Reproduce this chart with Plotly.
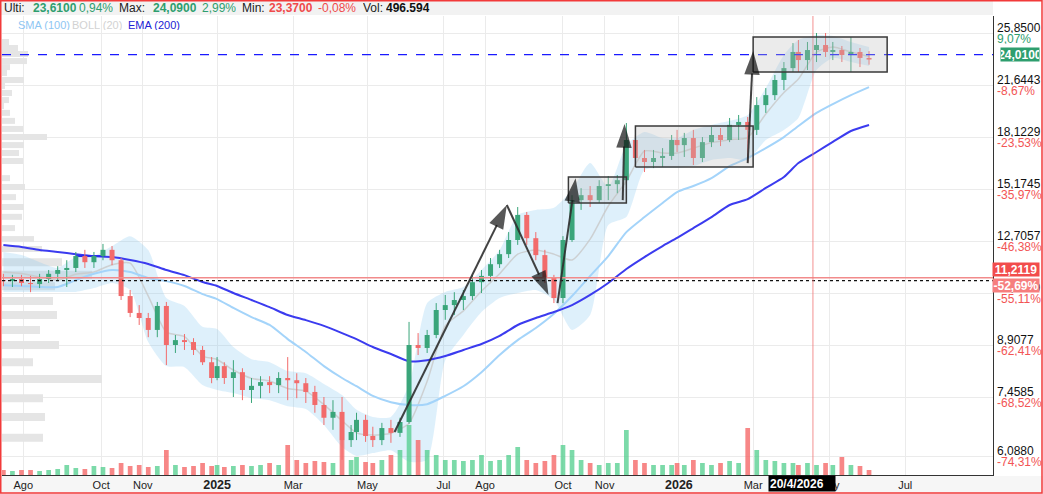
import numpy as np
import plotly.graph_objects as go

# ---------------------------------------------------------------- data
HOLIDAYS = ["2024-12-25", "2024-12-26", "2025-01-01", "2025-04-18", "2025-04-21",
            "2025-05-01", "2025-12-25", "2025-12-26", "2026-01-01", "2026-04-03",
            "2026-04-06", "2026-05-01"]
FIRST_WEEK = "2024-07-15"
N_WEEKS = 99

open_ = [11.12, 11.08, 11.16, 11.01, 10.97, 11.16, 11.36, 11.51, 11.59, 12.07,
         11.82, 12.07, 12.33, 11.90, 10.53, 9.94, 9.77, 9.38, 10.18, 8.91,
         9.06, 9.00, 8.76, 8.40, 7.96, 8.29, 7.96, 8.12, 7.64, 7.75,
         7.85, 7.77, 7.96, 7.90, 7.82, 7.59, 7.26, 6.95, 7.09, 6.44,
         6.62, 6.90, 6.53, 6.44, 6.71, 6.60, 6.85, 8.91, 8.82, 9.22,
         10.04, 10.21, 10.39, 10.53, 11.04, 11.28, 11.74, 12.15, 12.75, 13.89,
         12.83, 12.11, 11.20, 10.46, 12.75, 14.61, 14.86, 14.61, 15.33, 15.43,
         15.64, 17.94, 16.87, 16.64, 16.87, 16.99, 17.94, 17.63, 18.06, 16.87,
         17.81, 18.25, 17.94, 18.89, 19.08, 18.57, 20.21, 20.91, 22.02, 22.93,
         24.23, 23.57, 24.39, 24.81, 24.23, 24.39, 23.98, 24.23, 23.74]
high = [11.36, 11.32, 11.32, 11.28, 11.36, 11.51, 11.66, 11.90, 12.24, 12.33,
        12.24, 12.58, 12.49, 11.99, 10.75, 10.21, 9.94, 10.32, 10.32, 9.22,
        9.25, 9.12, 8.88, 8.55, 8.55, 8.40, 8.46, 8.23, 7.96, 8.01,
        8.01, 8.12, 8.55, 8.09, 7.96, 7.75, 7.46, 7.38, 7.46, 6.78,
        7.07, 7.02, 6.74, 6.83, 6.90, 6.95, 9.64, 9.28, 9.38, 10.28,
        10.57, 10.67, 10.75, 11.32, 11.51, 11.99, 12.33, 13.10, 14.27, 14.03,
        13.10, 12.33, 11.32, 12.92, 14.86, 15.22, 15.33, 15.64, 15.86, 15.91,
        19.01, 18.25, 17.34, 17.34, 17.45, 18.25, 18.57, 18.38, 18.57, 18.12,
        18.76, 18.69, 19.34, 19.54, 19.41, 20.77, 21.42, 22.40, 23.41, 24.98,
        25.24, 25.07, 25.85, 25.85, 25.07, 24.73, 25.50, 24.56, 24.30]
low = [10.89, 10.86, 10.89, 10.67, 10.82, 11.01, 11.08, 10.86, 11.43, 11.59,
       11.59, 11.90, 11.70, 10.39, 9.80, 9.54, 9.15, 9.15, 8.32, 8.67,
       8.76, 8.61, 8.32, 7.82, 7.90, 7.80, 7.46, 7.38, 7.31, 7.43,
       7.56, 7.56, 7.38, 7.43, 7.31, 7.07, 6.78, 6.67, 6.02, 6.29,
       6.44, 6.40, 6.29, 6.33, 6.38, 6.51, 6.81, 8.61, 8.67, 9.12,
       9.71, 9.87, 10.04, 10.39, 10.64, 11.12, 11.59, 11.99, 12.54, 12.54,
       11.90, 11.01, 10.28, 10.28, 12.67, 14.13, 14.27, 14.47, 14.61, 14.96,
       15.38, 16.47, 16.08, 16.30, 16.36, 16.76, 17.22, 16.93, 16.47, 16.64,
       17.51, 17.57, 17.81, 17.94, 16.64, 18.25, 19.68, 20.56, 21.27, 22.63,
       22.63, 22.78, 23.41, 23.82, 23.57, 23.41, 22.63, 23.01, 23.20]
close = [11.08, 11.16, 11.01, 10.97, 11.16, 11.36, 11.51, 11.59, 12.07, 11.82,
         12.07, 12.33, 11.90, 10.53, 9.94, 9.77, 9.38, 10.18, 8.91, 9.06,
         9.00, 8.76, 8.40, 7.96, 8.29, 7.96, 8.12, 7.64, 7.75, 7.85,
         7.77, 7.96, 7.90, 7.82, 7.59, 7.26, 6.95, 7.09, 6.44, 6.62,
         6.90, 6.53, 6.44, 6.71, 6.60, 6.85, 8.91, 8.82, 9.22, 10.04,
         10.21, 10.39, 10.53, 11.04, 11.28, 11.74, 12.15, 12.75, 13.89, 12.83,
         12.11, 11.20, 10.46, 12.75, 14.61, 14.86, 14.61, 15.33, 15.43, 15.64,
         17.94, 16.87, 16.64, 16.87, 16.99, 17.94, 17.63, 18.06, 16.87, 17.81,
         18.25, 17.94, 18.89, 19.08, 18.57, 20.21, 20.91, 22.02, 22.93, 24.23,
         23.57, 24.39, 24.81, 24.23, 24.39, 23.98, 24.23, 23.74, 23.61]
volume_k = [500, 400, 500, 500, 400, 500, 600, 1000, 700, 600,
            900, 800, 700, 1200, 900, 1000, 800, 900, 2500, 1000,
            800, 900, 1200, 900, 1000, 800, 900, 1000, 900, 1000,
            1200, 1000, 3000, 1500, 1200, 1400, 1300, 1200, 3500, 1500,
            1800, 1300, 1200, 1500, 2000, 2500, 5000, 3500, 2500, 2000,
            1500, 1500, 1400, 1500, 2000, 1400, 1500, 2000, 2800, 1500,
            1200, 1400, 2000, 3000, 2500, 1500, 1200, 1000, 1200, 1200,
            4500, 1500, 1200, 1000, 1000, 1000, 1200, 1000, 1500, 1200,
            1000, 1200, 1400, 1200, 4700, 2500, 1500, 1400, 1200, 1200,
            1000, 1200, 1000, 1200, 1000, 1800, 1000, 900, 500]

# indicators, read every second week
sma100 = [10.93, 10.90, 10.86, 10.86, 11.12, 11.36, 11.51, 11.43, 11.20, 11.08,
          10.90, 10.60, 10.42, 10.11, 9.80, 9.54, 9.09, 8.70, 8.29, 7.96,
          7.74, 7.49, 7.33, 7.26, 7.28, 7.49, 7.74, 8.12, 8.61, 9.06,
          9.44, 9.91, 10.53, 11.28, 12.07, 13.10, 13.79, 14.47, 15.02, 15.33,
          15.75, 16.41, 16.87, 17.45, 18.12, 18.82, 19.68, 20.28, 20.91, 21.49]
ema200 = [12.53, 12.45, 12.32, 12.24, 12.15, 12.07, 12.03, 11.91, 11.75, 11.51,
          11.31, 11.05, 10.90, 10.64, 10.39, 10.14, 9.87, 9.70, 9.51, 9.28,
          9.09, 8.85, 8.64, 8.43, 8.46, 8.58, 8.76, 8.94, 9.19, 9.54,
          9.77, 9.97, 10.21, 10.57, 11.01, 11.55, 12.03, 12.49, 12.84, 13.28,
          13.79, 14.37, 14.66, 15.23, 15.81, 16.58, 17.22, 17.82, 18.50, 18.88]
boll_up = [12.24, 12.11, 11.82, 11.59, 12.03, 12.07, 12.49, 12.92, 12.32, 10.46,
           10.18, 9.48, 9.41, 8.85, 8.49, 8.40, 8.15, 8.09, 7.80, 7.51,
           7.14, 6.97, 6.97, 7.77, 10.28, 10.68, 10.86, 11.51, 12.32, 13.89,
           14.13, 14.23, 15.12, 16.58, 15.28, 17.63, 18.44, 18.06, 18.06, 18.57,
           18.88, 19.15, 19.54, 21.42, 23.98, 25.24, 25.67, 25.59, 25.07, 24.64]
boll_mid = [11.43, 11.37, 11.24, 11.12, 11.34, 11.43, 11.72, 11.78, 10.53, 9.31,
            9.17, 8.58, 8.48, 8.18, 7.95, 7.88, 7.68, 7.61, 7.27, 6.88,
            6.60, 6.55, 6.59, 6.82, 7.87, 9.51, 10.01, 10.71, 11.36, 12.15,
            12.32, 12.15, 11.91, 12.79, 14.32, 15.59, 17.28, 17.16, 17.16, 17.45,
            17.78, 17.96, 18.09, 19.61, 21.10, 22.09, 24.21, 24.64, 24.23, 23.86]
boll_low = [10.68, 10.68, 10.68, 10.68, 10.68, 10.82, 11.01, 10.75, 9.00, 8.29,
            8.26, 7.77, 7.64, 7.56, 7.43, 7.38, 7.23, 7.16, 6.78, 6.29,
            6.10, 6.16, 6.22, 5.98, 6.02, 8.46, 9.22, 9.97, 10.46, 10.64,
            10.75, 10.39, 9.38, 9.87, 13.42, 13.79, 16.19, 16.30, 16.30, 16.41,
            16.76, 16.87, 16.76, 17.94, 18.57, 19.34, 22.78, 23.74, 23.41, 23.09]

# volume profile (price level, relative volume)
vp_price = [25.07, 24.56, 24.06, 23.49, 23.01, 22.55, 22.02, 21.57, 21.06, 20.56,
            20.14, 19.68, 19.15, 18.63, 18.12, 17.63, 17.16, 16.70, 15.75, 15.28,
            14.76, 14.27, 13.80, 13.28, 12.79, 12.37, 11.82, 11.32, 10.89, 10.35,
            9.87, 9.38, 8.91, 8.40, 7.93, 7.43, 6.97, 6.49]
vp_volume = [7, 16, 26, 25, 8, 5, 22, 3, 10, 7,
             2, 8, 13, 21, 45, 22, 17, 21, 8, 23,
             14, 22, 20, 13, 32, 40, 60, 90, 53, 51,
             55, 38, 57, 31, 100, 41, 43, 41]

month_dates = ["2024-08-01", "2024-10-01", "2024-11-01", "2025-01-01", "2025-03-01",
               "2025-05-01", "2025-07-01", "2025-08-01", "2025-10-01", "2025-11-01",
               "2026-01-01", "2026-03-01", "2026-05-01", "2026-07-01"]
month_labels = ["Ago", "Oct", "Nov", "2025", "Mar", "May", "Jul", "Ago", "Oct", "Nov",
                "2026", "Mar", "May", "Jul"]

axis_prices = [25.85, 21.6443, 18.1229, 15.1745, 12.7057, 10.6399, 8.9077, 7.4585, 6.088]
axis_price_txt = ["25,8500", "21,6443", "18,1229", "15,1745", "12,7057", "10,6399",
                  "8,9077", "7,4585", "6,0880"]
axis_pct_txt = ["9,07%", "-8,67%", "-23,53%", "-35,97%", "-46,38%", "-55,11%",
                "-62,41%", "-68,52%", "-74,31%"]

last_price, last_price_txt = 24.01, "24,0100"
start_price, start_price_txt, start_pct_txt = 11.2119, "11,2119", "-52,69%"
dotted_level = 11.10
crosshair_date, crosshair_txt = "2026-04-20", "20/4/2026"

# user drawings: arrows (date0, price0, date1, price1) and boxes (date0, date1, p0, p1)
arrows = [("2025-05-23", 6.62, "2025-08-19", 14.37),
          ("2025-08-19", 14.37, "2025-09-19", 10.57),
          ("2025-09-26", 10.28, "2025-10-10", 15.75),
          ("2025-11-17", 14.61, "2025-11-18", 18.95),
          ("2026-02-25", 16.58, "2026-03-02", 24.31)]
boxes = [("2025-10-06", "2025-11-19", 14.47, 15.81),
         ("2025-11-26", "2026-03-02", 16.36, 18.82),
         ("2026-03-02", "2026-06-17", 22.63, 25.50)]
hsegment = ("2024-09-11", "2024-10-03", 12.07)

header_items = [("Ulti:", "lab"), ("23,6100", "upb"), ("0,94%", "up"),
                ("Max:", "lab"), ("24,0900", "upb"), ("2,99%", "up"),
                ("Min:", "lab"), ("23,3700", "dnb"), ("-0,08%", "dn"),
                ("Vol:", "lab"), ("496.594", "labb")]
legend_items = [("SMA (100)", "#8ec6f3"), ("BOLL (20)", "#d2d2d2"), ("EMA (200)", "#2121d4")]

# ---------------------------------------------------------------- layout helpers
FONT = "Liberation Sans, Arial, sans-serif"
UP, DN = "#3aa57a", "#f26b6b"
HDR_GREEN, HDR_RED = "#2e9e6e", "#f04a4a"
W, H = 1043, 494
ML, MR, MT, MB = 2, 50, 16, 19
PW, PH = W - ML - MR, H - MT - MB

HOL = np.array(HOLIDAYS, dtype="datetime64[D]")
BASE = np.datetime64(FIRST_WEEK, "D")


def tday(d):
    return float(np.busday_count(BASE, np.datetime64(d, "D"), holidays=HOL))


xw = [tday(BASE + np.timedelta64(7 * i + 2, "D")) for i in range(N_WEEKS)]
xi = xw[::2]

PX_DAY = 1.811
X0 = tday("2024-08-01")
X_LO, X_HI = X0 - 21.3 / PX_DAY, X0 + 969.7 / PX_DAY
Y_HI = np.log10(25.85) + 17 * 0.0014827
Y_LO = Y_HI - PH * 0.0014827


def px_x(px):
    return (px - ML) / PW


def px_y(py):
    return (H - MB - py) / PH


fig = go.Figure()

# volume profile (base subplot, underneath everything)
for sel, lw in ((lambda p: p >= 12, 6), (lambda p: p < 12, 8)):
    X, Y = [], []
    for p, v in zip(vp_price, vp_volume):
        if sel(p):
            X += [0, v, None]
            Y += [p, p, None]
    fig.add_trace(go.Scatter(x=X, y=Y, mode="lines", xaxis="x", yaxis="y",
                             line=dict(color="#e5e5e5", width=lw), hoverinfo="skip"))

# Bollinger band
fig.add_trace(go.Scatter(x=xi, y=boll_low, mode="lines", xaxis="x2", yaxis="y",
                         line=dict(width=0, shape="spline", smoothing=0.6), hoverinfo="skip"))
fig.add_trace(go.Scatter(x=xi, y=boll_up, mode="lines", xaxis="x2", yaxis="y", fill="tonexty",
                         fillcolor="rgba(135,200,240,0.28)",
                         line=dict(width=0, shape="spline", smoothing=0.6), hoverinfo="skip"))
fig.add_trace(go.Scatter(x=xi, y=boll_mid, mode="lines", xaxis="x2", yaxis="y",
                         line=dict(color="rgba(200,200,200,0.8)", width=1.5, shape="spline",
                                   smoothing=0.6), hoverinfo="skip"))
# SMA / EMA
fig.add_trace(go.Scatter(x=xi, y=sma100, mode="lines", xaxis="x2", yaxis="y",
                         line=dict(color="#a4d4fa", width=2, shape="spline", smoothing=0.6)))
fig.add_trace(go.Scatter(x=xi, y=ema200, mode="lines", xaxis="x2", yaxis="y",
                         line=dict(color="#3b3bef", width=2, shape="spline", smoothing=0.6)))
# small drawn horizontal segment
fig.add_trace(go.Scatter(x=[tday(hsegment[0]), tday(hsegment[1])], y=[hsegment[2]] * 2,
                         mode="lines", xaxis="x2", yaxis="y",
                         line=dict(color="#2a2af0", width=2)))

# candles
n = len(close)
for color, idx in ((UP, [i for i in range(n) if close[i] >= open_[i]]),
                   (DN, [i for i in range(n) if close[i] < open_[i]])):
    wx, wy, bx, by = [], [], [], []
    for i in idx:
        wx += [xw[i], xw[i], None]
        wy += [low[i], high[i], None]
        bx += [xw[i], xw[i], None]
        by += [min(open_[i], close[i]), max(open_[i], close[i]), None]
    fig.add_trace(go.Scatter(x=wx, y=wy, mode="lines", xaxis="x2", yaxis="y",
                             line=dict(color=color, width=1)))
    fig.add_trace(go.Scatter(x=bx, y=by, mode="lines", xaxis="x2", yaxis="y",
                             line=dict(color=color, width=5)))

# horizontal reference lines + crosshair
fig.add_trace(go.Scatter(x=[X_LO, X_HI], y=[start_price] * 2, mode="lines", xaxis="x2",
                         yaxis="y", line=dict(color="#f28b8b", width=1.5)))
fig.add_trace(go.Scatter(x=[X_LO, X_HI], y=[dotted_level] * 2, mode="lines", xaxis="x2",
                         yaxis="y", line=dict(color="#111", width=1.3, dash="dot")))
fig.add_trace(go.Scatter(x=[X_LO, X_HI], y=[last_price] * 2, mode="lines", xaxis="x2",
                         yaxis="y", line=dict(color="#1a1aff", width=1.2, dash="dash")))
xc = tday(crosshair_date)
fig.add_trace(go.Scatter(x=[xc, xc], y=[10 ** Y_LO, 10 ** Y_HI], mode="lines", xaxis="x2",
                         yaxis="y", line=dict(color="rgba(240,120,120,0.55)", width=1.5)))

# boxes
for d0, d1, p0, p1 in boxes:
    a, b = tday(d0), tday(d1)
    fig.add_trace(go.Scatter(x=[a, b, b, a, a], y=[p0, p0, p1, p1, p0], mode="lines",
                             xaxis="x2", yaxis="y", fill="toself",
                             fillcolor="rgba(190,190,190,0.3)",
                             line=dict(color="#3a3a3a", width=1.5)))
# arrows
for d0, p0, d1, p1 in arrows:
    fig.add_trace(go.Scatter(x=[tday(d0), tday(d1)], y=[p0, p1], mode="lines+markers",
                             xaxis="x2", yaxis="y",
                             line=dict(color="rgba(45,45,45,0.9)", width=2),
                             marker=dict(symbol="arrow", angleref="previous", size=[0, 25],
                                         color="#111", line=dict(width=0))))

# volume bars
fig.add_trace(go.Bar(x=xw, y=volume_k, xaxis="x2", yaxis="y2", width=2.6,
                     marker=dict(color=["rgba(80,205,140,0.75)" if close[i] >= open_[i]
                                        else "rgba(245,105,105,0.8)" for i in range(n)],
                                 line=dict(width=0))))

# ---------------------------------------------------------------- annotations
ann = []
hx = [3, 32, 78, 118, 152, 201, 241, 268, 317, 362, 385]
sty = {"lab": ("#222", False), "labb": ("#111", True), "upb": (HDR_GREEN, True),
       "up": (HDR_GREEN, False), "dnb": (HDR_RED, True), "dn": (HDR_RED, False)}
for (txt, s), x in zip(header_items, hx):
    c, b = sty[s]
    ann.append(dict(text=f"<b>{txt}</b>" if b else txt, xref="paper", yref="paper",
                    x=px_x(x - 1), y=px_y(8), xanchor="left", yanchor="middle",
                    showarrow=False, height=12, font=dict(size=12, color=c, family=FONT)))
for (txt, c), x in zip(legend_items, [17, 71, 127]):
    ann.append(dict(text=txt, xref="paper", yref="paper", x=px_x(x - 1), y=px_y(24),
                    xanchor="left", yanchor="middle", showarrow=False, height=11,
                    font=dict(size=11, color=c, family=FONT)))
for p, t, pc in zip(axis_prices, axis_price_txt, axis_pct_txt):
    ann.append(dict(text=t, xref="paper", yref="y", x=px_x(995), y=np.log10(p), yshift=5.5,
                    xanchor="left", yanchor="middle", showarrow=False, height=10,
                    font=dict(size=12, color="#111", family=FONT)))
    ann.append(dict(text=pc, xref="paper", yref="y", x=px_x(995), y=np.log10(p), yshift=-5.5,
                    xanchor="left", yanchor="middle", showarrow=False, height=10,
                    font=dict(size=12, color=HDR_GREEN if not pc.startswith("-") else "#f25555",
                              family=FONT)))
ann.append(dict(text=f"<b>{last_price_txt}</b>", xref="paper", yref="y", x=px_x(1000),
                y=np.log10(last_price), xanchor="left", yanchor="middle", showarrow=False,
                bgcolor=HDR_GREEN, width=38, height=13, borderpad=0,
                font=dict(size=12, color="white", family=FONT)))
ann.append(dict(text=f"<b>{start_price_txt}</b>", xref="paper", yref="y", x=px_x(992),
                y=np.log10(start_price), yshift=8, xanchor="left", yanchor="middle",
                showarrow=False, bgcolor="#f24c4c", width=46, height=13, borderpad=0,
                font=dict(size=12, color="white", family=FONT)))
ann.append(dict(text=f"<b>{start_pct_txt}</b>", xref="paper", yref="y", x=px_x(992),
                y=np.log10(start_price), yshift=-7.5, xanchor="left", yanchor="middle",
                showarrow=False, bgcolor="#f67e7e", width=46, height=13, borderpad=0,
                font=dict(size=12, color="white", family=FONT)))
ann.append(dict(text=f"<b>{crosshair_txt}</b>", xref="x2", yref="paper", x=xc, xshift=-11,
                y=px_y(483.5), xanchor="center", yanchor="middle", showarrow=False,
                bgcolor="#000", width=64, height=13, borderpad=1, align="left",
                font=dict(size=12, color="white", family=FONT)))

shapes = [
    dict(type="rect", xref="paper", yref="paper", x0=-0.01, x1=1.0, y0=px_y(15), y1=px_y(-2),
         fillcolor="#f2f2f2", line=dict(width=0), layer="below"),
    dict(type="rect", xref="paper", yref="paper", x0=-0.01, x1=px_x(1045), y0=px_y(476),
         y1=px_y(496), fillcolor="#f6f6f6", line=dict(width=0), layer="below"),
    dict(type="rect", xref="paper", yref="paper", x0=px_x(0.75), x1=px_x(1042), y0=px_y(493),
         y1=px_y(0.75), line=dict(color="#f23a3a", width=1.5), fillcolor="rgba(0,0,0,0)"),
]

tick_txt = [f'<span style="font-size:12.5px"><b>{m}</b></span>' if m.isdigit() else m
            for m in month_labels]

fig.update_layout(
    width=W, height=H, margin=dict(l=ML, r=MR, t=MT, b=MB),
    paper_bgcolor="white", plot_bgcolor="white", showlegend=False, hovermode=False,
    font=dict(family=FONT, size=11, color="#222"),
    xaxis=dict(range=[0, PW], visible=False, fixedrange=True),
    xaxis2=dict(overlaying="x", anchor="y", side="bottom", range=[X_LO, X_HI],
                tickmode="array", tickvals=[tday(d) for d in month_dates], ticktext=tick_txt,
                showgrid=True, gridcolor="#ebebeb", gridwidth=1, zeroline=False,
                showline=True, linecolor="#333", linewidth=1, ticks="",
                tickfont=dict(size=11, color="#222", family=FONT)),
    yaxis=dict(type="log", range=[Y_LO, Y_HI], side="right", tickmode="array",
               tickvals=axis_prices, showticklabels=False, showgrid=True,
               gridcolor="#ebebeb", gridwidth=1, zeroline=False, showline=True,
               linecolor="#333", linewidth=1, ticks=""),
    yaxis2=dict(overlaying="y", range=[0, 45900], visible=False),
    annotations=ann, shapes=shapes,
)

fig.write_html("out.html", config={"displayModeBar": False, "staticPlot": True})
